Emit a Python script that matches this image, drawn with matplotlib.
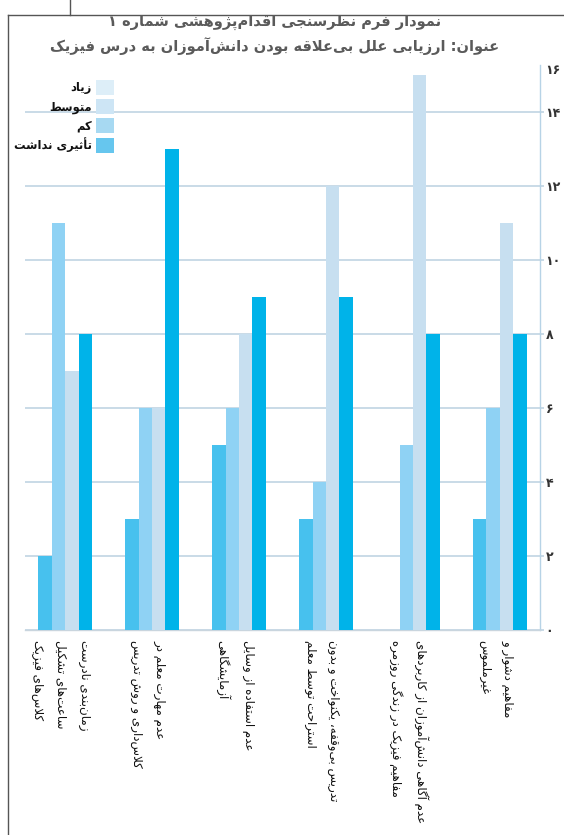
import matplotlib
matplotlib.use('Agg')
import matplotlib.pyplot as plt
from matplotlib.patches import Patch
from matplotlib.lines import Line2D
from matplotlib import font_manager
from matplotlib.font_manager import FontProperties
from matplotlib.ft2font import FT2Font
from matplotlib.transforms import ScaledTranslation

# ---------------- data ----------------
categories = [
    "زمان‌بندی نادرست\nساعت‌های تشکیل\nکلاس‌های فیزیک",
    "عدم مهارت معلم در\nکلاس‌داری و روش تدریس",
    "عدم استفاده از وسایل\nآزمایشگاهی",
    "تدریس بی‌وقفه، یکنواخت و بدون\nاستراحت توسط معلم",
    "عدم آگاهی دانش‌آموزان از کاربردهای\nمفاهیم فیزیک در زندگی روزمره",
    "مفاهیم دشوار و\nغیرملموس",
]
series_1 = [2, 3, 5, 3, 0, 3]
series_2 = [11, 6, 6, 4, 5, 6]
series_3 = [7, 6, 8, 12, 15, 11]
series_4 = [8, 13, 9, 9, 8, 8]
legend_labels = ["زیاد", "متوسط", "کم", "تأثیری نداشت"]
ytick_values = [0, 2, 4, 6, 8, 10, 12, 14]
ytick_labels = ["۰", "۲", "۴", "۶", "۸", "۱۰", "۱۲", "۱۴"]
top_label = "۱۶"
title_1 = "نمودار فرم نظرسنجی اقدام‌پژوهشی شماره ۱"
title_2 = "عنوان: ارزیابی علل بی‌علاقه بودن دانش‌آموزان به درس فیزیک"

bar_colors = ["#47c1ee", "#8fd2f4", "#c7dff0", "#00b3e9"]
legend_colors = ["#ddeef8", "#cde5f5", "#a7d9f2", "#66c6ee"]

# ---------------- Arabic / Persian shaping ----------------
def _r(a, n):
    return tuple(chr(a + k) for k in range(n))

FORMS = {
    'آ': _r(0xFE81, 2), 'أ': _r(0xFE83, 2), 'ؤ': _r(0xFE85, 2), 'إ': _r(0xFE87, 2),
    'ئ': _r(0xFE89, 4), 'ا': _r(0xFE8D, 2), 'ب': _r(0xFE8F, 4), 'ة': _r(0xFE93, 2),
    'ت': _r(0xFE95, 4), 'ث': _r(0xFE99, 4), 'ج': _r(0xFE9D, 4), 'ح': _r(0xFEA1, 4),
    'خ': _r(0xFEA5, 4), 'د': _r(0xFEA9, 2), 'ذ': _r(0xFEAB, 2), 'ر': _r(0xFEAD, 2),
    'ز': _r(0xFEAF, 2), 'س': _r(0xFEB1, 4), 'ش': _r(0xFEB5, 4), 'ص': _r(0xFEB9, 4),
    'ض': _r(0xFEBD, 4), 'ط': _r(0xFEC1, 4), 'ظ': _r(0xFEC5, 4), 'ع': _r(0xFEC9, 4),
    'غ': _r(0xFECD, 4), 'ف': _r(0xFED1, 4), 'ق': _r(0xFED5, 4), 'ك': _r(0xFED9, 4),
    'ل': _r(0xFEDD, 4), 'م': _r(0xFEE1, 4), 'ن': _r(0xFEE5, 4), 'ه': _r(0xFEE9, 4),
    'و': _r(0xFEED, 2), 'ى': _r(0xFEEF, 2), 'ي': _r(0xFEF1, 4),
    'پ': _r(0xFB56, 4), 'چ': _r(0xFB7A, 4), 'ژ': _r(0xFB8A, 2), 'ک': _r(0xFB8E, 4),
    'گ': _r(0xFB92, 4), 'ی': _r(0xFBFC, 4),
}
LAMALEF = {'ا': ('\uFEFB', '\uFEFC'), 'آ': ('\uFEF5', '\uFEF6'),
           'أ': ('\uFEF7', '\uFEF8'), 'إ': ('\uFEF9', '\uFEFA')}

FONT = 'DejaVu Sans'
_cmaps = {}
def _cmap(weight):
    if weight not in _cmaps:
        p = font_manager.findfont(FontProperties(family=FONT, weight=weight))
        _cmaps[weight] = FT2Font(p).get_charmap()
    return _cmaps[weight]

def shape_line(s, weight='normal'):
    cm = _cmap(weight)
    ok = lambda ch: ord(ch) in cm
    out = []
    i = 0
    n = len(s)
    while i < n:
        c = s[i]
        if c not in FORMS:
            if c != '\u200c':
                out.append(c)
            i += 1
            continue
        p = s[i - 1] if i > 0 else None
        jp = p in FORMS and len(FORMS[p]) == 4
        if c == 'ل' and i + 1 < n and s[i + 1] in LAMALEF:
            g = LAMALEF[s[i + 1]][1 if jp else 0]
            out.append(g if ok(g) else c + s[i + 1])
            i += 2
            continue
        f = FORMS[c]
        nx = s[i + 1] if i + 1 < n else None
        jn = len(f) == 4 and nx in FORMS
        if jp and jn:
            g = f[3]
        elif jp:
            g = f[1]
        elif jn:
            g = f[2]
        else:
            g = f[0]
        out.append(g if ok(g) else c)
        i += 1
    return ''.join(reversed(out))

def fa(s, weight='normal'):
    return '\n'.join(shape_line(line, weight) for line in s.split('\n'))

plt.rcParams['font.family'] = [FONT]

# ---------------- figure ----------------
W, H = 564, 835
fig = plt.figure(figsize=(W / 100, H / 100), dpi=100)
fig.patch.set_facecolor('white')
ax = fig.add_axes([25 / W, 1 - 630 / H, 515 / W, 565 / H])

x = list(range(len(categories)))
bw = 0.155
all_series = [series_1, series_2, series_3, series_4]
for k, (vals, col) in enumerate(zip(all_series, bar_colors)):
    off = (k - 1.5) * bw
    ax.bar([xi + off for xi in x], vals, width=bw, color=col, linewidth=0, zorder=3)

ax.set_xlim(-0.46, 5.46)
ax.set_ylim(0, 565 / 37.0)

# grid & spines
ax.set_axisbelow(True)
ax.yaxis.grid(True, color='#c9dbe7', linewidth=1.4)
ax.xaxis.grid(False)
for s in ['left', 'top']:
    ax.spines[s].set_visible(False)
ax.spines['right'].set_color('#b7d3e6')
ax.spines['right'].set_linewidth(1.0)
ax.spines['bottom'].set_color('#c9d5de')
ax.spines['bottom'].set_linewidth(1.0)

# y ticks on right
ax.yaxis.tick_right()
ax.set_yticks(ytick_values)
ax.set_yticklabels(ytick_labels, fontsize=9, fontweight='bold', color='#333333')
ax.tick_params(axis='y', length=3, width=1.4, color='#c9dbe7', pad=1)
ax.text(1.0 + 5 / 515, 1.0 - 5 / 565, top_label, transform=ax.transAxes, fontsize=9,
        fontweight='bold', color='#333333', ha='left', va='center')

# x tick labels (rotated Persian labels)
ax.set_xticks(x)
ax.set_xticklabels([fa(c) for c in categories], rotation=-90, va='top', ha='center',
                   multialignment='left', fontsize=8.6, linespacing=2.0, color='#111111')
ax.tick_params(axis='x', length=0, pad=7)
shift = ScaledTranslation(-4 / 100, 0, fig.dpi_scale_trans)
for lab in ax.get_xticklabels():
    lab.set_transform(lab.get_transform() + shift)

# legend
handles = [Patch(facecolor=c, edgecolor='none') for c in legend_colors]
leg = ax.legend(handles, [fa(l, 'bold') for l in legend_labels],
                loc='upper right', bbox_to_anchor=(114 / W, 1 - 80 / H),
                bbox_transform=fig.transFigure, frameon=False, markerfirst=False,
                handlelength=1.6, handleheight=1.6, handletextpad=0.35,
                labelspacing=0.38, borderpad=0, borderaxespad=0,
                prop={'size': 8.3, 'weight': 'bold'})
for t in leg.get_texts():
    t.set_color('#111111')

# titles
fig.text(0.486, 1 - 22 / H, fa(title_1, 'bold'), ha='center', va='center',
         fontsize=10.5, fontweight='bold', color='#5a5a5a')
fig.text(0.486, 1 - 46 / H, fa(title_2, 'bold'), ha='center', va='center',
         fontsize=10.5, fontweight='bold', color='#5a5a5a')

# frame lines
fig.add_artist(Line2D([8 / W, 8 / W], [0, 1 - 15 / H], transform=fig.transFigure,
                      color='#555555', linewidth=1.0))
fig.add_artist(Line2D([8 / W, 1], [1 - 15 / H, 1 - 15 / H], transform=fig.transFigure,
                      color='#555555', linewidth=1.0))
fig.add_artist(Line2D([70 / W, 70 / W], [1 - 15 / H, 1], transform=fig.transFigure,
                      color='#555555', linewidth=1.0))

fig.savefig('out.png', dpi=100, facecolor='white')
